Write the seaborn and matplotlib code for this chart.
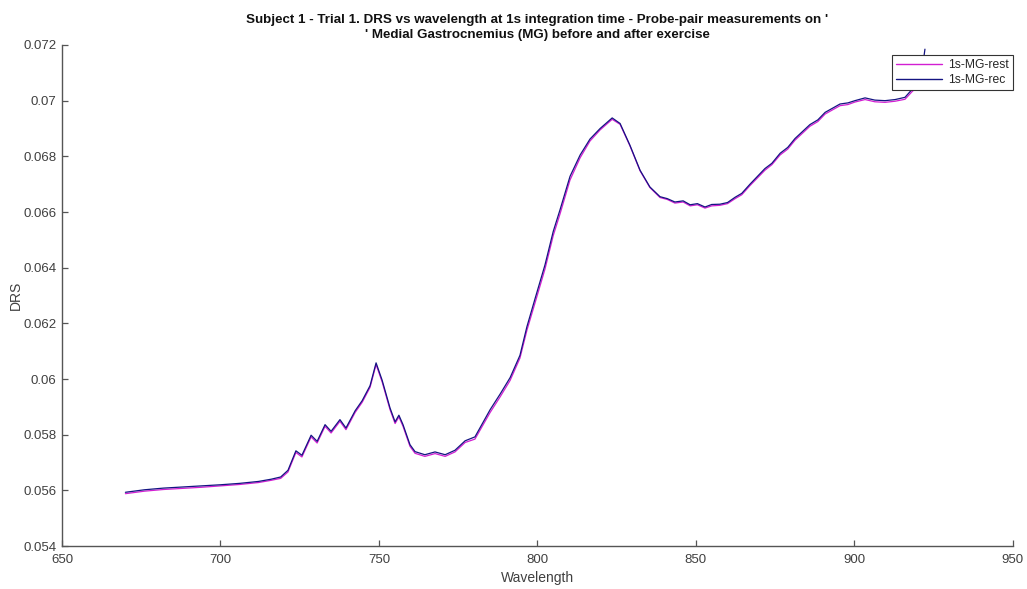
import numpy as np
import pandas as pd
import matplotlib
matplotlib.use("Agg")
import matplotlib.pyplot as plt
import seaborn as sns

# Wavelength grid (nm) and DRS readings for the two probe-pair acquisitions
wavelength_rest = [670.0, 676.0, 682.0, 688.0, 694.0, 700.0, 706.0, 712.0, 716.0, 719.0,
                   721.3, 723.8, 725.7, 728.6, 730.5, 733.0, 734.9, 737.7, 739.6, 742.5,
                   744.7, 747.2, 749.1, 751.0, 753.5, 755.1, 756.3, 757.6, 759.8, 761.4,
                   764.5, 767.7, 770.9, 774.0, 777.2, 780.3, 785.1, 788.2, 791.4, 794.5,
                   796.7, 799.3, 802.4, 805.0, 807.2, 810.3, 813.5, 816.6, 819.8, 823.6,
                   826.1, 829.2, 832.4, 835.5, 838.7, 841.0, 843.4, 846.0, 848.2, 850.5,
                   852.9, 855.0, 857.6, 860.0, 862.4, 864.5, 867.1, 871.8, 874.0, 876.6,
                   879.0, 881.3, 886.0, 888.5, 890.8, 895.5, 898.0, 900.2, 903.4, 906.5,
                   909.7, 912.9, 916.0, 918.2, 920.1]

drs_rest = [0.05588, 0.05597, 0.05603, 0.05607, 0.05611, 0.05616, 0.05621, 0.05628, 0.05636, 0.05643,
            0.05666, 0.05736, 0.05720, 0.05792, 0.05770, 0.05830, 0.05806, 0.05848, 0.05818, 0.05880,
            0.05916, 0.05970, 0.06052, 0.05990, 0.05890, 0.05840, 0.05864, 0.05830, 0.05758, 0.05733,
            0.05722, 0.05732, 0.05722, 0.05738, 0.05772, 0.05784, 0.05880, 0.05935, 0.05995, 0.06075,
            0.06175, 0.06275, 0.06395, 0.06515, 0.06595, 0.06715, 0.06795, 0.06855, 0.06895, 0.06933,
            0.06915, 0.06838, 0.06748, 0.06688, 0.06652, 0.06645, 0.06632, 0.06636, 0.06622, 0.06626,
            0.06614, 0.06622, 0.06624, 0.06630, 0.06648, 0.06662, 0.06695, 0.06750, 0.06770, 0.06805,
            0.06826, 0.06858, 0.06908, 0.06925, 0.06952, 0.06982, 0.06986, 0.06995, 0.07004, 0.06996,
            0.06994, 0.06998, 0.07005, 0.07032, 0.07052]

wavelength_rec = [670.0, 676.0, 682.0, 688.0, 694.0, 700.0, 706.0, 712.0, 716.0, 719.0,
                  721.3, 723.8, 725.7, 728.6, 730.5, 733.0, 734.9, 737.7, 739.6, 742.5,
                  744.7, 747.2, 749.1, 751.0, 753.5, 755.1, 756.3, 757.6, 759.8, 761.4,
                  764.5, 767.7, 770.9, 774.0, 777.2, 780.3, 785.1, 788.2, 791.4, 794.5,
                  796.7, 799.3, 802.4, 805.0, 807.2, 810.3, 813.5, 816.6, 819.8, 823.6,
                  826.1, 829.2, 832.4, 835.5, 838.7, 841.0, 843.4, 846.0, 848.2, 850.5,
                  852.9, 855.0, 857.6, 860.0, 862.4, 864.5, 867.1, 871.8, 874.0, 876.6,
                  879.0, 881.3, 886.0, 888.5, 890.8, 895.5, 898.0, 900.2, 903.4, 906.5,
                  909.7, 912.9, 916.0, 918.2, 920.1, 921.4, 922.3]

drs_rec = [0.05593, 0.05602, 0.05608, 0.05612, 0.05616, 0.05620, 0.05625, 0.05632, 0.05640, 0.05648,
           0.05672, 0.05742, 0.05726, 0.05798, 0.05776, 0.05836, 0.05812, 0.05854, 0.05824, 0.05886,
           0.05922, 0.05976, 0.06058, 0.05996, 0.05896, 0.05846, 0.05870, 0.05836, 0.05764, 0.05739,
           0.05728, 0.05738, 0.05728, 0.05744, 0.05778, 0.05792, 0.05890, 0.05945, 0.06005, 0.06085,
           0.06188, 0.06290, 0.06410, 0.06530, 0.06610, 0.06728, 0.06805, 0.06862, 0.06900, 0.06938,
           0.06918, 0.06840, 0.06750, 0.06690, 0.06655, 0.06648, 0.06636, 0.06640, 0.06626, 0.06630,
           0.06618, 0.06627, 0.06628, 0.06634, 0.06653, 0.06667, 0.06700, 0.06756, 0.06775, 0.06811,
           0.06832, 0.06864, 0.06914, 0.06931, 0.06958, 0.06988, 0.06992, 0.07000, 0.07010, 0.07002,
           0.07000, 0.07004, 0.07012, 0.07040, 0.07060, 0.07110, 0.07185]

series_names = ["1s-MG-rest", "1s-MG-rec"]
series_colors = ["#d21ed2", "#141482"]

x_ticks = [650, 700, 750, 800, 850, 900, 950]
y_ticks = [0.054, 0.056, 0.058, 0.06, 0.062, 0.064, 0.066, 0.068, 0.07, 0.072]
y_tick_labels = ["0.054", "0.056", "0.058", "0.06", "0.062", "0.064", "0.066", "0.068", "0.07", "0.072"]

title_text = ("Subject 1 - Trial 1. DRS vs wavelength at 1s integration time - Probe-pair measurements on '\n"
              "' Medial Gastrocnemius (MG) before and after exercise")

df = pd.concat([
    pd.DataFrame({"Wavelength": wavelength_rest, "DRS": drs_rest, "series": series_names[0]}),
    pd.DataFrame({"Wavelength": wavelength_rec, "DRS": drs_rec, "series": series_names[1]}),
], ignore_index=True)

sns.set_theme(style="white")
plt.rcParams["font.family"] = ["Liberation Sans", "DejaVu Sans"]

axis_gray = "#555555"
text_gray = "#404040"

fig = plt.figure(figsize=(10.27, 5.89), dpi=100)
ax = fig.add_axes([0.0604, 0.0730, 0.9257, 0.8506])

sns.lineplot(data=df, x="Wavelength", y="DRS", hue="series", hue_order=series_names,
             palette=dict(zip(series_names, series_colors)), linewidth=0.9,
             sort=False, estimator=None, ax=ax)

ax.set_xlim(650, 950)
ax.set_ylim(0.054, 0.072)
ax.set_xticks(x_ticks)
ax.set_xticklabels([str(t) for t in x_ticks])
ax.set_yticks(y_ticks)
ax.set_yticklabels(y_tick_labels)

for side in ("top", "right"):
    ax.spines[side].set_visible(False)
for side in ("left", "bottom"):
    ax.spines[side].set_color(axis_gray)
    ax.spines[side].set_linewidth(1.0)

ax.tick_params(axis="both", direction="in", length=4.5, width=0.9, color=axis_gray,
               labelsize=9.5, labelcolor=text_gray, left=True, bottom=True)
ax.tick_params(axis="x", pad=6)
ax.tick_params(axis="y", pad=4)

ax.set_xlabel("Wavelength", fontsize=10, color=text_gray, labelpad=3)
ax.set_ylabel("DRS", fontsize=10, color=text_gray, labelpad=0)
ax.set_title(title_text, fontsize=9.6, fontweight="bold", color="#111111", pad=5, linespacing=1.3)

leg = ax.legend(loc="upper right", bbox_to_anchor=(1.0, 0.98), fontsize=8.7, frameon=True,
                fancybox=False, edgecolor="#333333", framealpha=1.0, handlelength=3.8,
                handletextpad=0.5, borderpad=0.35, labelspacing=0.25, borderaxespad=0.0)
leg.get_frame().set_linewidth(0.8)
for line in leg.get_lines():
    line.set_linewidth(1.0)

fig.savefig("out.png", dpi=100, facecolor="white")
